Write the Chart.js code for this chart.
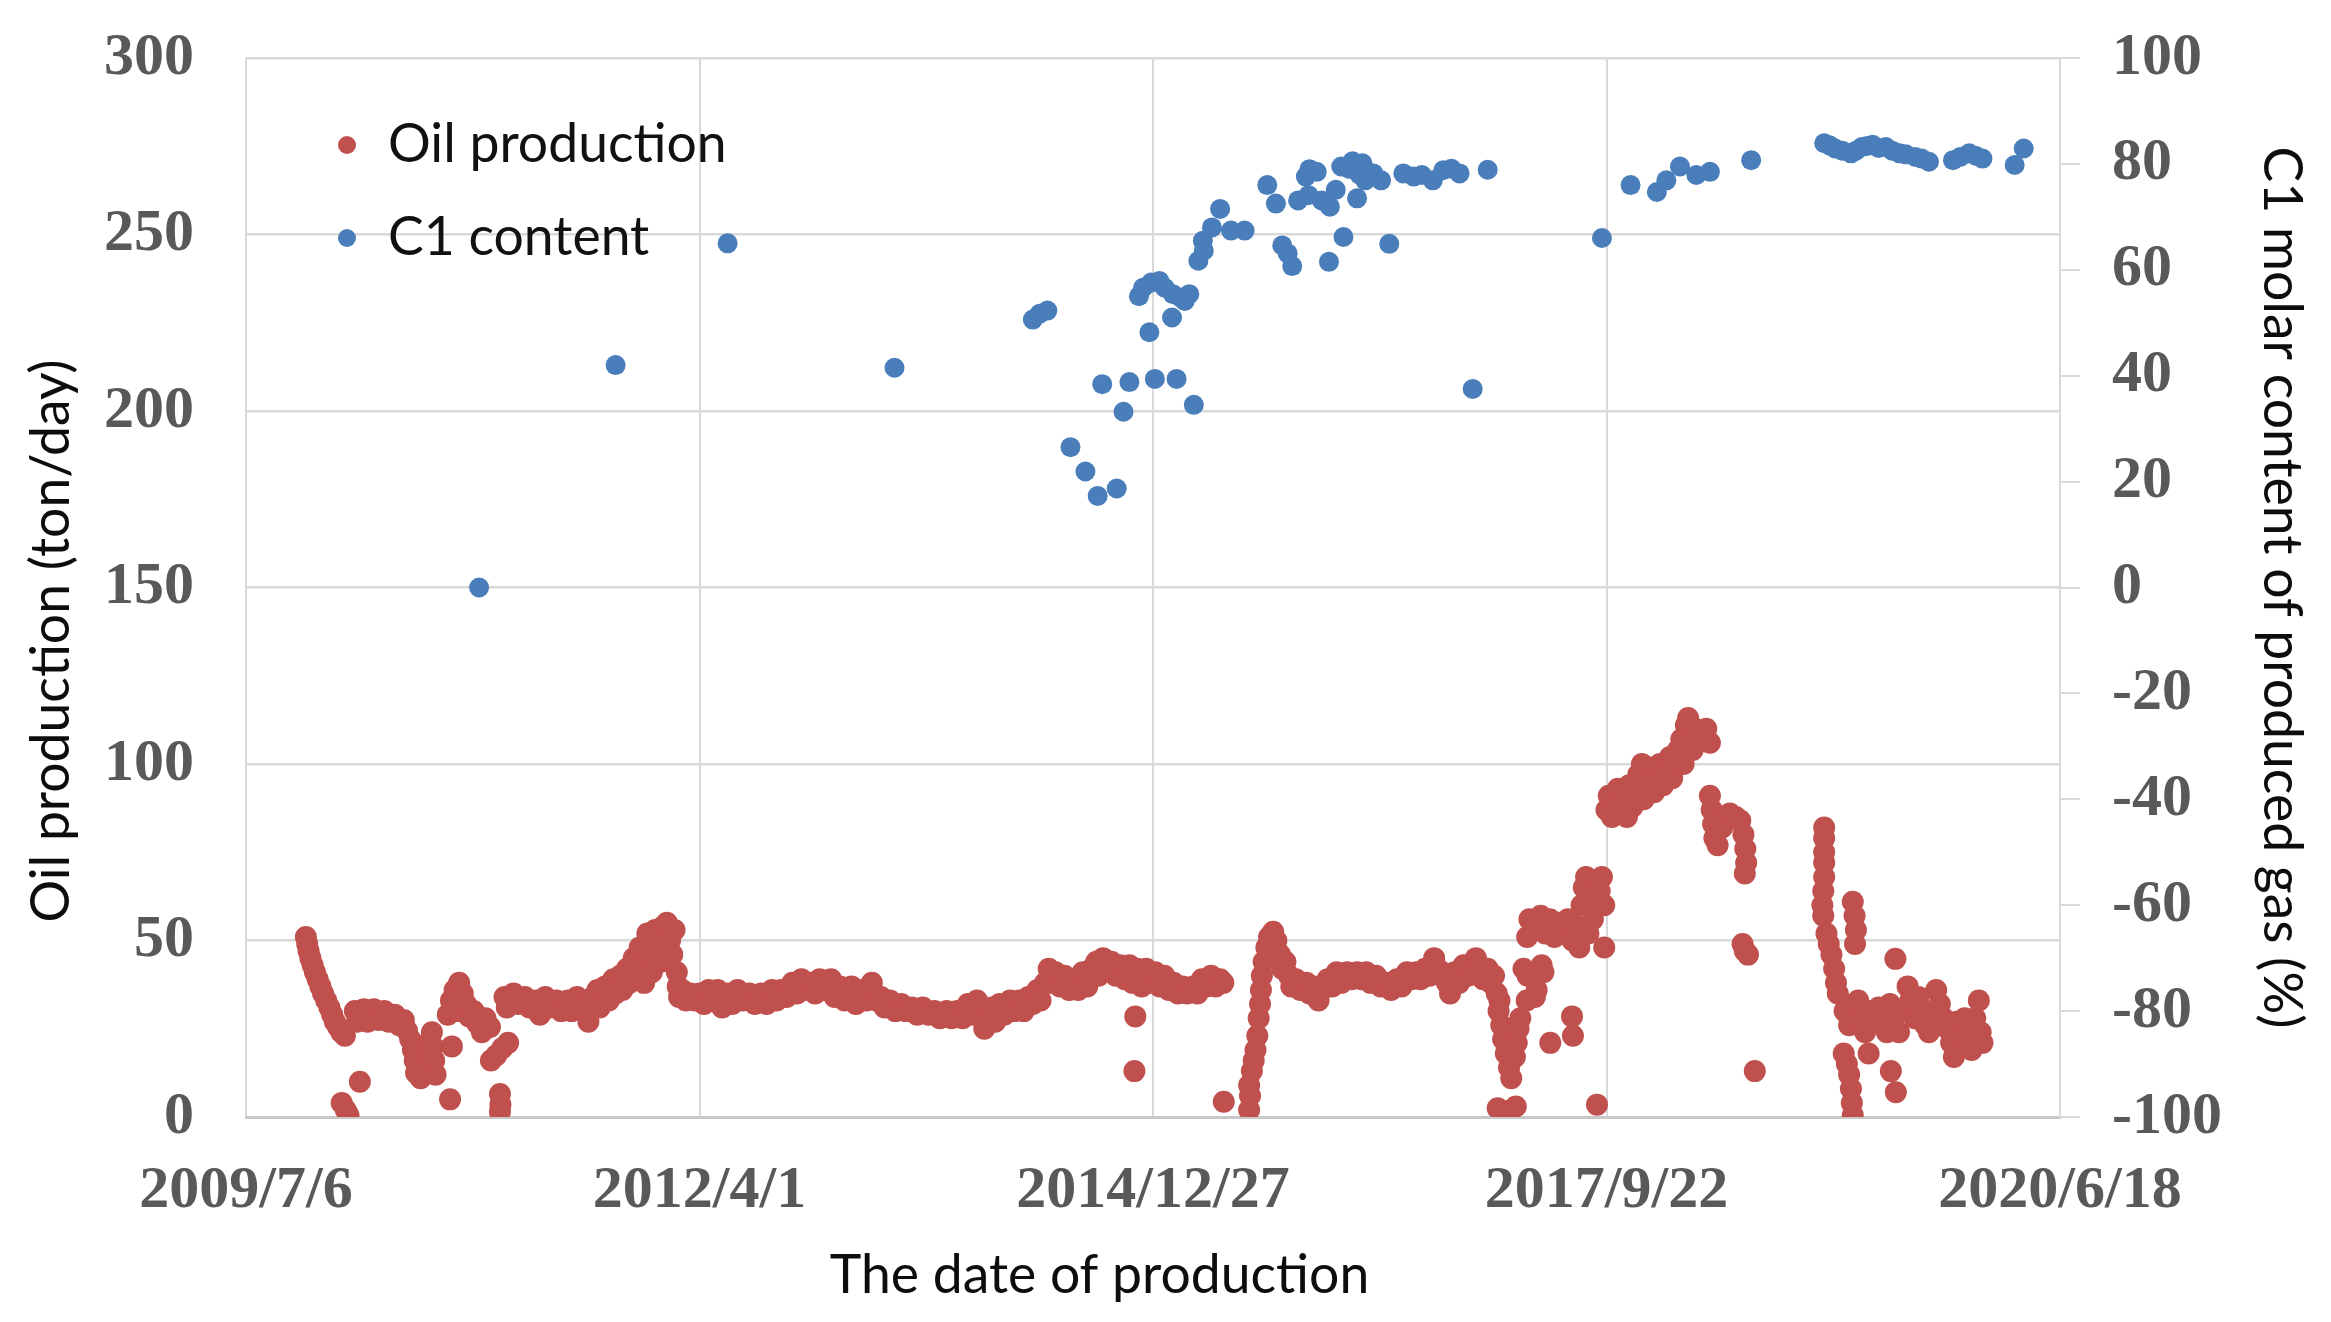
<!DOCTYPE html>
<html>
<head>
<meta charset="utf-8">
<script src="https://cdn.jsdelivr.net/npm/chart.js@4/dist/chart.umd.min.js"></script>
<style>
html,body{margin:0;padding:0;background:#fff;overflow:hidden}
canvas{display:block}
</style>
</head>
<body>
<canvas id="c" width="2331" height="1322"></canvas>
<script>
// ---- tick labels (x values are Excel day serials) ----
const xTickSerials = [40000, 41000, 42000, 43000, 44000];
const xTickLabels = ['2009/7/6', '2012/4/1', '2014/12/27', '2017/9/22', '2020/6/18'];

// ---- Oil production (ton/day) ----
const oilDays = [
40132,40135,40138,40142,40147,40152,40158,40164,40170,40177,
40184,40190,40196,40203,40210,40218,40211,40226,40220,40251,
40240,40245,40260,40268,40282,40292,40305,40315,40328,40338,
40348,40355,40362,40368,40372,40375,40385,40395,40400,40402,
40410,40412,40415,40418,40450,40454,40445,40452,40460,40470,
40478,40465,40485,40492,40502,40510,40520,40528,40538,40540,
40552,40565,40578,40560,40561,40560,40570,40575,40590,40600,
40615,40625,40640,40648,40660,40670,40685,40695,40710,40718,
40730,40740,40752,40755,40765,40775,40780,40792,40800,40810,
40815,40825,40830,40840,40845,40855,40860,40868,40872,40878,
40885,40890,40895,40902,40908,40915,40920,40928,40935,40940,
40945,40950,40952,40955,40962,40970,40980,40990,41000,41010,
41020,41030,41040,41050,41062,41072,41084,41095,41110,41122,
41136,41148,41160,41170,41180,41192,41205,41215,41225,41235,
41245,41255,41265,41275,41290,41298,41310,41320,41335,41345,
41358,41368,41380,41390,41400,41408,41420,41432,41445,41455,
41468,41480,41492,41505,41518,41530,41545,41556,41568,41580,
41592,41602,41612,41620,41628,41636,41645,41652,41662,41672,
41685,41695,41705,41715,41725,41735,41745,41752,41762,41770,
41775,41785,41795,41805,41815,41825,41835,41845,41855,41865,
41875,41880,41890,41898,41908,41918,41928,41938,41948,41955,
41965,41975,41985,41995,41961,41959,42005,42015,42025,42035,
42045,42055,42065,42075,42088,42098,42108,42118,42128,42138,
42148,42155,42156,42212,42214,42212,42218,42222,42226,42230,
42233,42236,42238,42240,42244,42250,42256,42265,42272,42280,
42285,42292,42300,42305,42315,42325,42338,42345,42355,42365,
42372,42385,42395,42405,42415,42428,42438,42450,42460,42470,
42480,42492,42502,42515,42525,42538,42548,42560,42570,42580,
42590,42600,42610,42620,42628,42638,42648,42655,42665,42675,
42685,42695,42705,42712,42720,42728,42738,42745,42752,42758,
42764,42762,42768,42772,42778,42785,42790,42798,42802,42806,
42810,42760,42775,42790,42800,42817,42826,42824,42842,42846,
42857,42861,42876,42924,42926,42979,42995,42825,42830,42845,
42855,42865,42875,42885,42895,42905,42915,42925,42935,42945,
42950,42955,42965,42970,42975,42985,42990,42995,42960,42940,
43000,43005,43012,43020,43025,43030,43040,43045,43050,43058,
43065,43070,43078,43082,43090,43098,43105,43112,43118,43125,
43132,43140,43145,43152,43158,43165,43170,43175,43180,43185,
43190,43195,43200,43210,43220,43228,43228,43232,43235,43238,
43245,43255,43262,43272,43285,43295,43302,43306,43308,43305,
43300,43305,43312,43327,43480,43480,43480,43480,43480,43478,
43476,43478,43485,43490,43496,43502,43506,43510,43523,43530,
43535,43539,43541,43543,43543,43547,43550,43548,43637,43627,
43638,43525,43535,43545,43555,43560,43570,43578,43585,43595,
43600,43610,43618,43625,43635,43645,43655,43664,43670,43680,
43688,43695,43703,43711,43720,43727,43735,43743,43752,43760,
43766,43772,43782,43790,43798,43805,43813,43821,43825,43829
];
const oilRate = [
51,49,47,45,43,41,39,37,35,33,
31,29,27,25.5,24,23,4,0.5,2,10,
30,27,30.5,27,30.5,27.5,30,27,29,26,
27.5,24.5,22,19,16,12.5,11,13,17,21,
24,20,16,12,5,20,29,33,36,38,
35,30,32,28.5,30,26.5,24,28,25.5,16,
17.5,19.5,21,6.5,3.5,1.5,34,31,35,32,
34,31,33,29,34,31,33,30,33,30,
34,31,32,27,34,36,31,37,33,39,
35,40,36,42,38,45,40,48,43,38,
52,46,41,53,49,44,54,55,50,46,
53,41,37,34,36,33,35,33,35,32,
36,33,36,31,35,32,36,33,35,32,
35,32,36,33,36,34,38,35,39,36,
38,35,39,36,39,34,37,33,37,32,
36,33,38,33,34,31,33,30,32,30,
31,29,31,29,30,28,30,28,30,28,
32,29,33,29,25,27,31,27,32,29,
33,30,33,30,34,32,36,33,38,42,
38,41,37,40,36,39,36,41,37,42,
44,40,45,42,44,40,43,39,43,38,
42,37,42,38,28.5,13,41,37,40,36,
38,35,37,35,37,35,39,37,40,37,
39,38,4.3,2,6,9,13,16,19,23,
28,32,36,40,44,48,51,52.5,50,46,
42,44,40,37,39,36,38,35,37,33,
36,39,37,41,38,41,39,41,39,41,
38,40,37,38,36,39,37,41,39,41,
39,42,40,45,42,41,38,35,41,38,
43,40,42,45,42,39,42,38,40,35,
33,30,26,22,18,14,11,17,21,25,
28,2.5,1.5,2,3,42,40,33,34,36,
43,41,21,28.5,23,3.5,48,51,56,53,
57,52,56,51,55,52,56,50,54,60,
65,68,62,56,67,64,68,60,52,48,
87,91,85,89,93,87,90,85,94,88,
92,97,100,90,94,99,92,96,100,94,
98,102,96,100,104,107,100,111,113,107,
104,110,108,108,110,106,91,87,83,79,
77,82,85,86,85,84,80,76,72,69,
49,47,46,13,82,79,75,72,68,64,
60,57,52,49,46,42,38,35,18,15,
12,8,4,0.5,61,57,53,49,44.8,13,
7,30,26,32,33,27,24,18,30,27,
31,28,24,32,29,24,30,37,33,28,
34,30,26,24,30,36,32,28,25,21,
17,27,23,28,25,19,28,33,24,21
];

// ---- C1 molar content of produced gas (%) ----
const c1Days = [
40514,40815,41062,41430,41735,41750,41767,41818,41851,41878,
41920,41888,41935,41948,41969,41978,41992,41996,42004,42014,
42026,42042,42044,42052,42062,42070,42080,42090,42100,42110,
42112,42130,42148,42172,42202,42252,42271,42285,42297,42307,
42320,42337,42343,42345,42361,42372,42388,42390,42403,42415,
42420,42432,42440,42450,42455,42462,42468,42486,42503,42521,
42552,42575,42593,42617,42640,42658,42676,42705,42738,42990,
43053,43111,43132,43162,43198,43228,43319,43480,43492,43504,
43520,43539,43550,43563,43575,43587,43600,43616,43630,43646,
43660,43681,43695,43711,43764,43780,43800,43815,43829,43900,
43920
];
const c1Content = [
0,42,65,41.5,50.6,51.7,52.3,26.5,21.9,17.3,
18.7,38.4,33.2,38.8,55.0,56.6,48.2,57.6,39.4,57.9,
56.6,51.0,55.4,39.4,54.7,54.1,55.4,34.5,61.7,65.5,
63.6,68,71.5,67.4,67.4,76.0,72.5,64.6,63.1,60.7,
73.1,77.6,74.1,79,78.5,73.1,61.5,71.9,75.1,79.5,
66.2,79.1,80.5,73.5,78,80.1,76.9,78.2,76.9,64.9,
78.2,77.6,77.9,76.9,78.8,79.1,78.2,37.5,78.9,66.0,
76.0,74.7,76.9,79.5,77.9,78.5,80.7,83.9,83.5,82.9,
82.5,82.0,82.5,83.2,83.4,83.6,83,83.2,82.5,82.0,
81.8,81.3,81,80.4,80.7,81.3,82.0,81.5,81.0,79.8,
82.9
];

const seriesNames = ['Oil production', 'C1 content'];
const seriesColors = ['#C0504D', '#4A7EBB'];

const tickFont = { family: "'Liberation Serif', 'Times New Roman', serif", size: 60, weight: 'bold' };
const titleFont = { family: "Lato, 'Open Sans', sans-serif", size: 53.5, weight: 'normal' };
const tickColor = '#595959';
const gridColor = '#d9d9d9';

const insideLegend = {
  id: 'insideLegend',
  afterDatasetsDraw(chart) {
    const ctx = chart.ctx, a = chart.chartArea;
    chart.data.datasets.forEach((ds, i) => {
      const cx = a.left + 101, cy = a.top + 87 + i * 93;
      ctx.save();
      ctx.fillStyle = ds.backgroundColor;
      ctx.beginPath(); ctx.arc(cx, cy, 9, 0, Math.PI * 2); ctx.fill();
      ctx.fillStyle = '#111';
      ctx.font = "53.5px Lato, 'Open Sans', sans-serif";
      ctx.textBaseline = 'middle';
      ctx.textAlign = 'left';
      ctx.fillText(ds.label, cx + 41, cy);
      ctx.restore();
    });
  }
};

const fixVertical = (w) => (s) => { s.width = w; s.paddingTop = 0; s.paddingBottom = 0; };

new Chart(document.getElementById('c'), {
  type: 'scatter',
  data: {
    datasets: [
      {
        label: seriesNames[0],
        data: oilDays.map((d, i) => ({ x: d, y: oilRate[i] })),
        yAxisID: 'y',
        backgroundColor: seriesColors[0],
        borderColor: seriesColors[0],
        borderWidth: 0,
        pointRadius: 11,
        pointHoverRadius: 11
      },
      {
        label: seriesNames[1],
        data: c1Days.map((d, i) => ({ x: d, y: c1Content[i] })),
        yAxisID: 'y2',
        backgroundColor: seriesColors[1],
        borderColor: seriesColors[1],
        borderWidth: 0,
        pointRadius: 10,
        pointHoverRadius: 10
      }
    ]
  },
  options: {
    responsive: false,
    devicePixelRatio: 1,
    animation: false,
    events: [],
    layout: { padding: { top: 58, left: 0, right: 0, bottom: 0 } },
    plugins: { legend: { display: false }, tooltip: { enabled: false } },
    scales: {
      x: {
        type: 'linear',
        min: xTickSerials[0],
        max: xTickSerials[xTickSerials.length - 1],
        afterBuildTicks: (s) => { s.ticks = xTickSerials.map(v => ({ value: v })); },
        ticks: {
          callback: (v) => xTickLabels[xTickSerials.indexOf(v)],
          font: tickFont, color: tickColor, padding: 38, maxRotation: 0, autoSkip: false
        },
        grid: { color: gridColor, lineWidth: 2, drawTicks: false },
        border: { color: '#c8c8c8', width: 3 },
        title: {
          display: true, text: 'The date of production\u2003\u2003\u2002',
          font: titleFont, color: '#0d0d0d', padding: { top: 0, bottom: 14 }
        },
        afterFit: (s) => { s.height = 205; }
      },
      y: {
        position: 'left', min: 0, max: 300,
        ticks: { stepSize: 50, font: tickFont, color: tickColor, padding: 52 },
        grid: { color: gridColor, lineWidth: 2.5, drawTicks: false },
        border: { display: false },
        title: {
          display: true, text: 'Oil production (ton/day)\u2003\u2003\u2002',
          font: titleFont, color: '#0d0d0d', padding: { top: 20, bottom: 0 }
        },
        afterFit: fixVertical(246)
      },
      y2: {
        position: 'right', min: -100, max: 100,
        ticks: { stepSize: 20, font: tickFont, color: tickColor, padding: 32 },
        grid: { drawOnChartArea: false, color: gridColor, lineWidth: 2, tickLength: 20 },
        border: { color: gridColor, width: 2 },
        title: {
          display: true, text: 'C1 molar content of produced gas (%)',
          font: titleFont, color: '#0d0d0d', padding: { top: 18, bottom: 0 }
        },
        afterFit: fixVertical(271)
      }
    }
  },
  plugins: [insideLegend]
});
</script>
</body>
</html>
